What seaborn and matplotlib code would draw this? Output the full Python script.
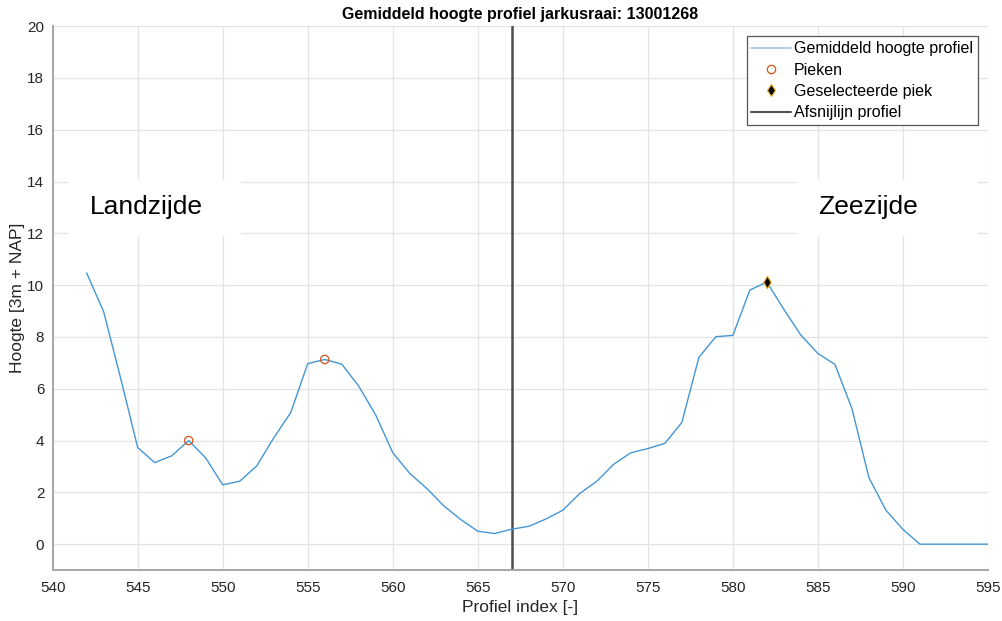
import numpy as np
import pandas as pd
import seaborn as sns
import matplotlib
matplotlib.use("Agg")
import matplotlib.pyplot as plt
from matplotlib.patches import Rectangle
from matplotlib.lines import Line2D

# Average height profile along the transect (profile index -> height)
profile_index = list(range(542, 596))
height = [10.47, 8.97, 6.40, 3.73, 3.15, 3.41, 4.00, 3.33, 2.29, 2.43,
          3.02, 4.10, 5.08, 6.97, 7.13, 6.95, 6.10, 4.98, 3.53, 2.73,
          2.15, 1.48, 0.95, 0.50, 0.41, 0.58, 0.69, 0.97, 1.31, 1.96,
          2.43, 3.09, 3.53, 3.69, 3.89, 4.70, 7.21, 8.01, 8.06, 9.81,
          10.12, 9.06, 8.07, 7.36, 6.94, 5.24, 2.57, 1.31, 0.57, 0.00,
          0.00, 0.00, 0.00, 0.00]

peak_index = [548, 556]
selected_peak_index = [582]
cutoff_index = 567

title = "Gemiddeld hoogte profiel jarkusraai: 13001268"
xlabel = "Profiel index [-]"
ylabel = "Hoogte [3m + NAP]"
side_labels = ["Landzijde", "Zeezijde"]
legend_labels = ["Gemiddeld hoogte profiel", "Pieken",
                 "Geselecteerde piek", "Afsnijlijn profiel"]

profile = pd.DataFrame({"index": profile_index, "height": height})
peaks = profile[profile["index"].isin(peak_index)]
selected = profile[profile["index"].isin(selected_peak_index)]

sns.set_theme(style="whitegrid")
plt.rcParams["font.family"] = ["Liberation Sans", "DejaVu Sans"]

fig = plt.figure(figsize=(10.03, 6.21), dpi=100)
ax = fig.add_axes([0.0525, 0.082, 0.9325, 0.876])

line_color = "#4496d6"
sns.lineplot(data=profile, x="index", y="height", ax=ax, color=line_color,
             linewidth=1.0, zorder=3, legend=False)
sns.scatterplot(data=peaks, x="index", y="height", ax=ax, marker="o",
                s=36, facecolor="none", edgecolor="#D95319", linewidth=0.9,
                zorder=4, legend=False)
sns.scatterplot(data=selected, x="index", y="height", ax=ax, marker="d",
                s=40, color="black", edgecolor="#EDB120", linewidth=0.8,
                zorder=5, legend=False)
ax.axvline(cutoff_index, color="#4d4d4d", linewidth=1.8, zorder=2)

# White boxes behind the side labels
for (x0, x1), label, xc in zip([(540.9, 551.1), (583.8, 594.4)],
                               side_labels, [545.5, 587.95]):
    ax.add_patch(Rectangle((x0, 11.9), x1 - x0, 2.15, facecolor="white",
                           edgecolor="none", zorder=1))
    ax.text(xc, 13.0, label, fontsize=19, color="black",
            ha="center", va="center", zorder=6)

ax.set_xlim(540, 595)
ax.set_ylim(-1, 20)
ax.set_xticks(range(540, 596, 5))
ax.set_yticks(range(0, 21, 2))
ax.set_axisbelow(True)
ax.grid(True, color="#e3e3e3", linewidth=0.9)

for side in ["top", "right"]:
    ax.spines[side].set_visible(False)
for side in ["left", "bottom"]:
    ax.spines[side].set_visible(True)
    ax.spines[side].set_color("#a6a6a6")
    ax.spines[side].set_linewidth(1.4)

ax.tick_params(axis="both", direction="in", length=7, width=1.0,
               color="#4d4d4d", labelsize=11, labelcolor="#262626", pad=6)
ax.tick_params(axis="x", pad=8)

ax.set_title(title, fontsize=11.5, fontweight="bold", color="black", pad=5)
ax.set_xlabel(xlabel, fontsize=12.5, color="#262626", labelpad=3.5)
ax.set_ylabel(ylabel, fontsize=12.5, color="#262626", labelpad=2)

handles = [
    Line2D([], [], color="#9cc6e8", linewidth=1.2),
    Line2D([], [], linestyle="none", marker="o", markersize=6,
           markerfacecolor="none", markeredgecolor="#D95319", markeredgewidth=0.9),
    Line2D([], [], linestyle="none", marker="d", markersize=6.5,
           markerfacecolor="black", markeredgecolor="#EDB120", markeredgewidth=0.8),
    Line2D([], [], color="#505050", linewidth=1.5),
]
leg = ax.legend(handles, legend_labels, loc="upper right", fontsize=11.5,
                frameon=True, fancybox=False, shadow=False, framealpha=1,
                borderaxespad=0.65, handlelength=2.5, handletextpad=0.15,
                labelspacing=0.4, borderpad=0.3)
leg.get_frame().set_edgecolor("#555555")
leg.get_frame().set_linewidth(0.9)
for t in leg.get_texts():
    t.set_color("black")

fig.savefig("out.png", dpi=100)
